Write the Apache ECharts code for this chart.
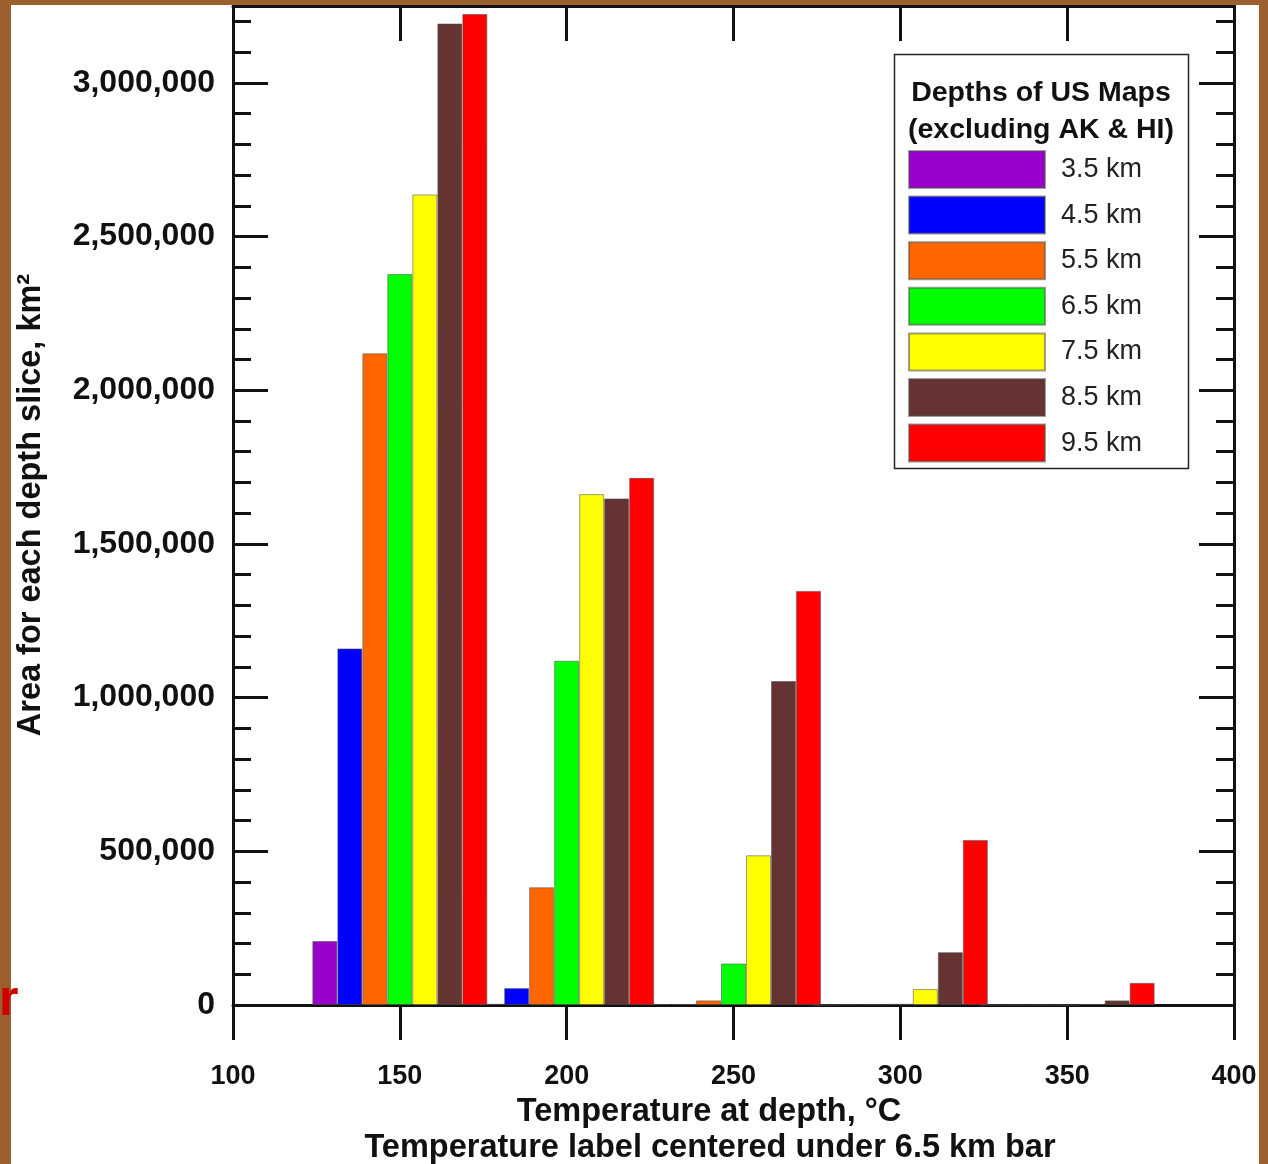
<!DOCTYPE html>
<html>
<head>
<meta charset="utf-8">
<script src="https://cdn.jsdelivr.net/npm/echarts@6.0.0/dist/echarts.min.js"></script>
<style>
  html, body { margin: 0; padding: 0; background: #ffffff; }
  #chart { width: 1268px; height: 1164px; }
</style>
</head>
<body>
<div id="chart"></div>
<script>
// Temperature bins (°C) — each label sits under the 6.5 km bar of its group
const temperatures = [150, 200, 250, 300, 350];

// Depth slices shown in the legend
const depthNames = ['3.5 km', '4.5 km', '5.5 km', '6.5 km', '7.5 km', '8.5 km', '9.5 km'];
const depthColors = ['#9900cc', '#0000ff', '#ff6600', '#00ff00', '#ffff00', '#663333', '#ff0000'];

// Area (km²) at each temperature, one array per depth slice
const area35 = [208000, 4000, 3000, 0, 0];
const area45 = [1160000, 55000, 3000, 2000, 0];
const area55 = [2120000, 383000, 15000, 2000, 0];
const area65 = [2378000, 1120000, 135000, 4000, 0];
const area75 = [2637000, 1662000, 487000, 52000, 3000];
const area85 = [3193000, 1648000, 1054000, 172000, 15000];
const area95 = [3224000, 1715000, 1347000, 537000, 72000];
const areasByDepth = [area35, area45, area55, area65, area75, area85, area95];

// Axis ranges
const xMin = 100, xMax = 400, xStep = 50;
const yMin = 0, yMax = 3250000, yMajor = 500000, yMinor = 100000;

const FONT = "'Liberation Sans', Arial, Helvetica, sans-serif";
const BROWN = '#9c5f2e';

const chart = echarts.init(document.getElementById('chart'), null, { renderer: 'canvas' });

const lineStyle = { color: '#111', width: 3 };

function yAxisDef(position, interval, tickLen, withLine, withLabels) {
  return {
    type: 'value', position: position, min: yMin, max: yMax, interval: interval,
    axisLine: { show: withLine, lineStyle: lineStyle },
    axisTick: { show: true, inside: true, length: tickLen, lineStyle: { color: '#111', width: 3 } },
    axisLabel: withLabels ? {
      show: true, margin: 18, showMaxLabel: false, padding: [10, 0, 0, 0],
      fontFamily: FONT, fontWeight: 'bold', fontSize: 32, color: '#111',
      formatter: v => v.toLocaleString('en-US')
    } : { show: false },
    splitLine: { show: false }
  };
}

const series = depthNames.map((name, k) => ({
  name: name,
  type: 'bar',
  xAxisIndex: 0,
  yAxisIndex: 0,
  barWidth: 25,
  barGap: '0%',
  itemStyle: { color: depthColors[k], borderColor: 'rgba(80,80,80,0.55)', borderWidth: 1 },
  data: temperatures.map((t, i) => [t, areasByDepth[k][i]])
}));

const option = {
  animation: false,
  backgroundColor: '#ffffff',
  grid: { left: 233, right: 34, top: 6, bottom: 159, containLabel: false },
  xAxis: [
    {
      type: 'value', position: 'bottom', min: xMin, max: xMax, interval: xStep,
      axisLine: { show: true, onZero: false, lineStyle: lineStyle },
      axisTick: { show: true, inside: false, length: 35, lineStyle: { color: '#111', width: 3 } },
      axisLabel: {
        show: true, margin: 72, verticalAlign: 'middle',
        fontFamily: FONT, fontWeight: 'bold', fontSize: 27, color: '#111'
      },
      splitLine: { show: false }
    },
    {
      type: 'value', position: 'top', min: xMin, max: xMax, interval: xStep,
      axisLine: { show: true, onZero: false, lineStyle: lineStyle },
      axisTick: { show: true, inside: true, length: 35, lineStyle: { color: '#111', width: 3 } },
      axisLabel: { show: false },
      splitLine: { show: false }
    }
  ],
  yAxis: [
    yAxisDef('left', yMajor, 35, true, true),
    yAxisDef('left', yMinor, 18, false, false),
    yAxisDef('right', yMajor, 35, true, false),
    yAxisDef('right', yMinor, 18, false, false)
  ],
  legend: {
    show: true,
    data: depthNames,
    orient: 'vertical',
    left: 908, top: 150,
    padding: 0,
    itemWidth: 136, itemHeight: 37, itemGap: 6.6,
    icon: 'rect',
    selectedMode: false,
    z: 10,
    textStyle: {
      fontFamily: FONT, fontSize: 27, color: '#222',
      padding: [0, 0, 0, 11]
    }
  },
  graphic: [
    // legend frame and heading
    { type: 'rect', z: 1, shape: { x: 894.5, y: 54.5, width: 294, height: 414 },
      style: { fill: '#ffffff', stroke: '#222', lineWidth: 1.5 } },
    { type: 'text', z: 2, x: 1041, y: 93,
      style: { text: 'Depths of US Maps', fill: '#111', font: 'bold 28.5px ' + FONT,
               textAlign: 'center', textVerticalAlign: 'middle' } },
    { type: 'text', z: 2, x: 1041, y: 130,
      style: { text: '(excluding AK & HI)', fill: '#111', font: 'bold 28.5px ' + FONT,
               textAlign: 'center', textVerticalAlign: 'middle' } },
    // axis titles
    { type: 'text', z: 2, x: 709, y: 1112,
      style: { text: 'Temperature at depth, °C', fill: '#111', font: 'bold 32.5px ' + FONT,
               textAlign: 'center', textVerticalAlign: 'middle' } },
    { type: 'text', z: 2, x: 710, y: 1148,
      style: { text: 'Temperature label centered under 6.5 km bar', fill: '#111', font: 'bold 32.5px ' + FONT,
               textAlign: 'center', textVerticalAlign: 'middle' } },
    { type: 'text', z: 2, x: 31, y: 505, rotation: Math.PI / 2,
      style: { text: 'Area for each depth slice, km²', fill: '#111', font: 'bold 32.5px ' + FONT,
               textAlign: 'center', textVerticalAlign: 'middle' } },
    // page frame
    { type: 'rect', z: 50, shape: { x: 0, y: 0, width: 1268, height: 5 }, style: { fill: BROWN } },
    { type: 'rect', z: 50, shape: { x: 0, y: 0, width: 11, height: 1164 }, style: { fill: BROWN } },
    { type: 'rect', z: 50, shape: { x: 1259, y: 0, width: 9, height: 1164 }, style: { fill: BROWN } },
    { type: 'text', z: 60, x: -1, y: 1026,
      style: { text: 'r', fill: '#d00000', font: 'bold 50px ' + FONT,
               textAlign: 'left', textVerticalAlign: 'bottom' } }
  ],
  series: series
};

chart.setOption(option);
</script>
</body>
</html>
